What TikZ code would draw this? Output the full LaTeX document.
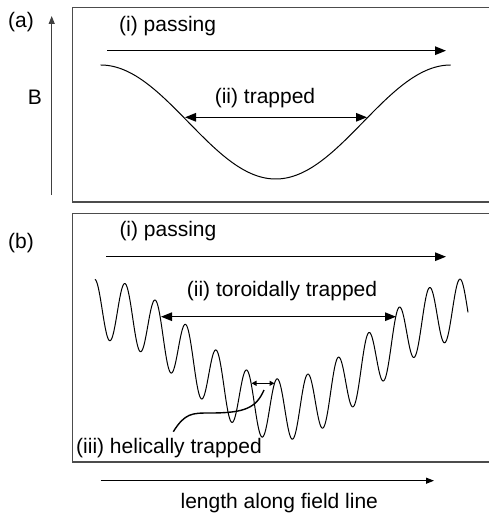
\documentclass[tikz,border=0pt]{standalone}
\usepackage{fontspec}
\setmainfont{Liberation Sans}
\usetikzlibrary{arrows.meta}
\begin{document}
\begin{tikzpicture}[x=1pt,y=-1pt,
  lbl/.style={inner sep=0pt,font=\fontsize{21}{25}\selectfont},
  frame/.style={draw=black!70,line width=1.3pt},
  bigarrow/.style={line width=1.4pt,-{Triangle[length=11pt,width=8.5pt]}},
  dblarrow/.style={line width=1.4pt,{Triangle[length=11pt,width=8.5pt]}-{Triangle[length=11pt,width=8.5pt]}},
  smallarrow/.style={line width=1.2pt,{Triangle[length=5pt,width=5pt]}-{Triangle[length=5pt,width=5pt]}},
  thinarrow/.style={line width=1.2pt,-{Triangle[length=8pt,width=6pt]}},
  curve/.style={line width=1pt}]
\useasboundingbox (0,0) rectangle (488,513);
% frames
\draw[frame] (495,7.3) -- (72.3,7.3) -- (72.3,202) -- (495,202);
\draw[frame] (495,213.7) -- (72.8,213.7) -- (72.8,462) -- (495,462);
% labels
\node[lbl,anchor=base west] (la) at (8,27.5) {(a)};
\node[lbl,anchor=base west] (lb) at (8,248) {(b)};
\node[lbl,anchor=base] (lB) at (35,105) {B};
% axis
\coordinate (axb) at (51.7,195);
\coordinate (axt) at (51.7,16);
\draw[line width=1.3pt,draw=black!75,-{Triangle[length=8pt,width=6pt]}] (axb) -- (axt);
% panel (a)
\node[lbl,anchor=base west] (pa) at (119,31.5) {(i) passing};
\coordinate (pa1) at (107,50.7);
\coordinate (pa2) at (446,50.7);
\draw[bigarrow] (pa1) -- (pa2);
\draw[curve] plot[domain=100.7:450.7,samples=150] (\x,{122-57*cos((\x-100.7)/350*360)});
\node[lbl,anchor=base] (ta) at (265,104) {(ii) trapped};
\coordinate (ta1) at (185,117.3);
\coordinate (ta2) at (367,117.3);
\draw[dblarrow] (ta1) -- (ta2);
% panel (b)
\node[lbl,anchor=base west] (pb) at (119.3,236.7) {(i) passing};
\coordinate (pb1) at (106,256.7);
\coordinate (pb2) at (446,256.7);
\draw[bigarrow] (pb1) -- (pb2);
\draw[curve] plot[domain=95:468,samples=700] (\x,{359.5+50*cos((\x-282)/364*360)-30.5*cos((\x-125)/30.45*360)});
\node[lbl,anchor=base] (tb) at (282,296.7) {(ii) toroidally trapped};
\coordinate (tb1) at (161,316.7);
\coordinate (tb2) at (396,316.7);
\draw[dblarrow] (tb1) -- (tb2);
\coordinate (hb1) at (251.5,383.3);
\coordinate (hb2) at (274.5,383.3);
\draw[smallarrow] (hb1) -- (hb2);
\node[lbl,anchor=base west] (hl) at (76,453) {(iii) helically trapped};
\coordinate (hs) at (173.3,431.7);
\coordinate (he) at (264,390);
\draw[line width=1.4pt] (hs) .. controls (185,413) and (192,413) .. (210,413) .. controls (245,413) and (256,408) .. (he);
% bottom axis
\coordinate (bx1) at (100.7,480.7);
\coordinate (bx2) at (434,480.7);
\draw[thinarrow] (bx1) -- (bx2);
\node[lbl,anchor=base] (lx) at (279.3,508.3) {length along field line};
\end{tikzpicture}
\end{document}
